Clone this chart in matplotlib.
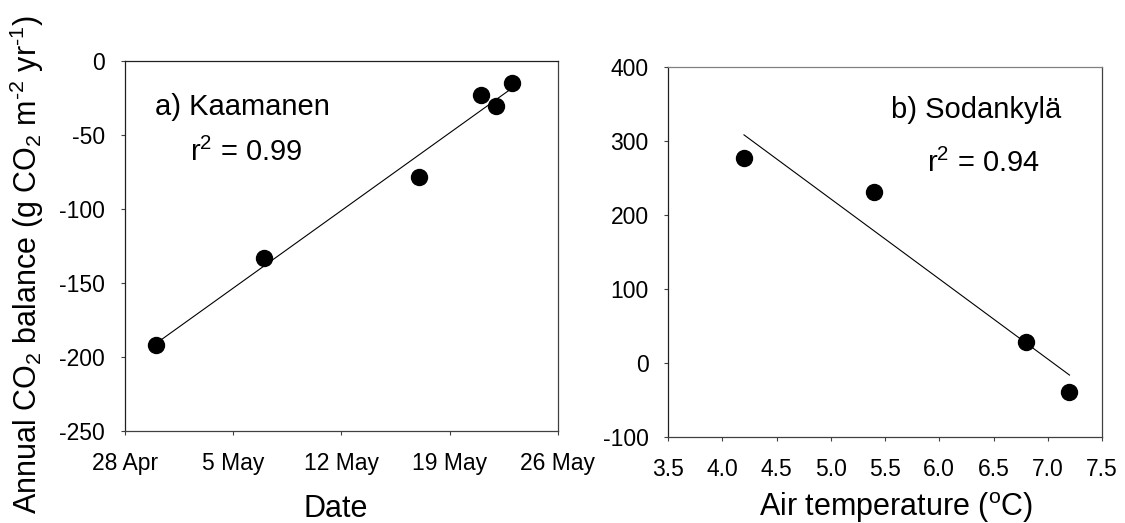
import numpy as np
import pandas as pd
import matplotlib
matplotlib.use('Agg')
import matplotlib.pyplot as plt

plt.rcParams.update({
    'font.family': 'Liberation Sans',
    'mathtext.fontset': 'custom',
    'mathtext.rm': 'Liberation Sans',
    'mathtext.it': 'Liberation Sans',
    'mathtext.default': 'regular',
    'axes.unicode_minus': False,
    'xtick.labelsize': 16.5,
    'ytick.labelsize': 16.5,
    'axes.labelsize': 22,
})

# ---- data: a) Kaamanen (date vs annual CO2 balance)
kaa_dates = ['2000-04-30', '2000-05-07', '2000-05-17', '2000-05-21', '2000-05-22', '2000-05-23']
kaa_co2 = [-192, -133, -78, -23, -30, -15]
kaa_ticks = ['2000-04-28', '2000-05-05', '2000-05-12', '2000-05-19', '2000-05-26']
kaa_r2 = 0.99

# ---- data: b) Sodankyla (air temperature vs annual CO2 balance)
sod_temp = [4.2, 5.4, 6.8, 7.2]
sod_co2 = [277, 232, 29, -38]
sod_r2 = 0.94

H = 523  # figure height in px, used for text placement
fig = plt.figure(figsize=(11.25, 5.23), dpi=100)
ax1 = fig.add_axes([0.1108, 0.1765, 0.3852, 0.7063])
ax2 = fig.add_axes([0.5938, 0.1635, 0.3858, 0.7075])

def style(ax, top_col):
    ax.spines['left'].set_color('#202020')
    ax.spines['bottom'].set_color('#404040')
    ax.spines['top'].set_color(top_col)
    ax.spines['right'].set_color('#404040')
    for s in ax.spines.values():
        s.set_linewidth(0.9)
    ax.tick_params(direction='out', length=3, width=0.8, color='#404040')
    ax.tick_params(axis='x', pad=12)
    ax.tick_params(axis='y', pad=11)

# ---- panel a
d = pd.to_datetime(kaa_dates)
t0 = pd.to_datetime(kaa_ticks[0])
x_days = np.array((d - t0).days, dtype=float)
ax1.plot(x_days, kaa_co2, 'o', color='black', markersize=11.5, zorder=3)
k, b = np.polyfit(x_days, kaa_co2, 1)
xf = np.array([x_days.min(), x_days.max()])
ax1.plot(xf, k * xf + b, color='black', lw=0.8)
tick_dates = pd.to_datetime(kaa_ticks)
ax1.set_xticks((tick_dates - t0).days)
ax1.set_xticklabels([f"{t.day} {t:%b}" for t in tick_dates])
ax1.set_xlim(0, (tick_dates[-1] - t0).days)
ax1.set_ylim(-250, 0)
ax1.set_yticks(np.arange(-250, 1, 50))
ax1.set_xlabel('Date', va='baseline')
ax1.xaxis.set_label_coords(0.487, -0.2328)
ax1.set_ylabel(r'Annual CO$_2$ balance (g CO$_2$ m$^{\text{-2}}$ yr$^{\text{-1}}$)')
ax1.yaxis.set_label_coords(-0.181, 0.449)
style(ax1, '#202020')
ax1.annotate('a) Kaamanen', xy=(155, H - 115), xycoords='figure pixels', fontsize=21)
ax1.annotate(r'r$^2$ = %.2f' % kaa_r2, xy=(190, H - 161), xycoords='figure pixels', fontsize=21)

# ---- panel b
ax2.plot(sod_temp, sod_co2, 'o', color='black', markersize=11.5, zorder=3)
k2, b2 = np.polyfit(sod_temp, sod_co2, 1)
xf2 = np.array([min(sod_temp), max(sod_temp)])
ax2.plot(xf2, k2 * xf2 + b2, color='black', lw=0.8)
ax2.set_xlim(3.5, 7.5)
ax2.set_xticks(np.arange(3.5, 7.51, 0.5))
ax2.set_xticklabels([f"{v:.1f}" for v in np.arange(3.5, 7.51, 0.5)])
ax2.set_ylim(-100, 400)
ax2.set_yticks(np.arange(-100, 401, 100))
ax2.set_xlabel(r'Air temperature ($^o$C)', va='baseline')
ax2.xaxis.set_label_coords(0.525, -0.212)
style(ax2, '#808080')
ax2.annotate(u'b) Sodankylä', xy=(891, H - 118), xycoords='figure pixels', fontsize=21)
ax2.annotate(r'r$^2$ = %.2f' % sod_r2, xy=(927, H - 172), xycoords='figure pixels', fontsize=21)

fig.savefig('out.png', dpi=100)
